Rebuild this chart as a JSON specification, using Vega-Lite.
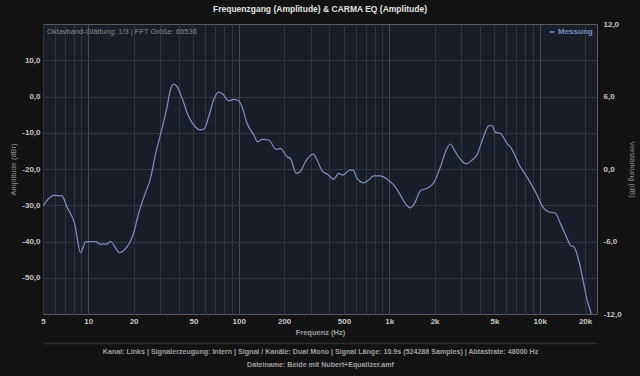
{
  "$schema": "https://vega.github.io/schema/vega-lite/v6.json",
  "width": 554,
  "height": 290,
  "autosize": {"type": "none"},
  "padding": {"left": 43, "top": 24, "right": 43, "bottom": 62},
  "background": "#121212",
  "title": {"text": "Frequenzgang (Amplitude) & CARMA EQ (Amplitude)", "fontSize": 8.5, "fontWeight": "bold", "color": "#e2e2e2", "offset": 7, "anchor": "middle", "frame": "group"},
  "config": {
    "font": "Liberation Sans",
    "view": {"fill": "#181d29", "stroke": "#5a5a5a", "strokeWidth": 1},
    "axis": {"domain": false, "ticks": false, "labelColor": "#c8c8c8", "labelFontSize": 8, "labelFontWeight": "bold", "titleFontSize": 7.5, "titleColor": "#8c8c8c", "titleFontWeight": "normal", "gridColor": "#30343c", "gridWidth": 1, "labelOverlap": false, "labelFlush": false, "labelBound": false}
  },
  "datasets": {
    "messung": [
      {"f": 5.0, "db": -30.2, "serie": "Messung"},
      {"f": 5.9, "db": -27.3, "serie": "Messung"},
      {"f": 6.7, "db": -27.4, "serie": "Messung"},
      {"f": 7.2, "db": -30.4, "serie": "Messung"},
      {"f": 8.1, "db": -35.0, "serie": "Messung"},
      {"f": 8.9, "db": -43.1, "serie": "Messung"},
      {"f": 9.6, "db": -40.1, "serie": "Messung"},
      {"f": 11.2, "db": -40.0, "serie": "Messung"},
      {"f": 11.9, "db": -40.7, "serie": "Messung"},
      {"f": 13.3, "db": -40.7, "serie": "Messung"},
      {"f": 14.0, "db": -40.0, "serie": "Messung"},
      {"f": 16.2, "db": -43.1, "serie": "Messung"},
      {"f": 17.2, "db": -42.5, "serie": "Messung"},
      {"f": 20.0, "db": -37.7, "serie": "Messung"},
      {"f": 21.6, "db": -32.2, "serie": "Messung"},
      {"f": 23.9, "db": -26.7, "serie": "Messung"},
      {"f": 25.9, "db": -22.6, "serie": "Messung"},
      {"f": 27.9, "db": -16.1, "serie": "Messung"},
      {"f": 30.9, "db": -8.8, "serie": "Messung"},
      {"f": 33.4, "db": -2.8, "serie": "Messung"},
      {"f": 35.1, "db": 1.8, "serie": "Messung"},
      {"f": 36.9, "db": 3.4, "serie": "Messung"},
      {"f": 38.9, "db": 2.7, "serie": "Messung"},
      {"f": 42.0, "db": -0.5, "serie": "Messung"},
      {"f": 46.5, "db": -5.6, "serie": "Messung"},
      {"f": 51.5, "db": -8.4, "serie": "Messung"},
      {"f": 55.6, "db": -9.2, "serie": "Messung"},
      {"f": 59.1, "db": -8.8, "serie": "Messung"},
      {"f": 63.1, "db": -5.6, "serie": "Messung"},
      {"f": 68.1, "db": -0.9, "serie": "Messung"},
      {"f": 73.5, "db": 1.2, "serie": "Messung"},
      {"f": 78.6, "db": 0.6, "serie": "Messung"},
      {"f": 85.7, "db": -1.2, "serie": "Messung"},
      {"f": 92.5, "db": -0.8, "serie": "Messung"},
      {"f": 99.8, "db": -1.2, "serie": "Messung"},
      {"f": 105, "db": -2.8, "serie": "Messung"},
      {"f": 113.5, "db": -7.4, "serie": "Messung"},
      {"f": 125.6, "db": -10.6, "serie": "Messung"},
      {"f": 133.6, "db": -12.5, "serie": "Messung"},
      {"f": 142.9, "db": -11.8, "serie": "Messung"},
      {"f": 158, "db": -12.0, "serie": "Messung"},
      {"f": 177.8, "db": -14.6, "serie": "Messung"},
      {"f": 188.9, "db": -14.3, "serie": "Messung"},
      {"f": 209.5, "db": -16.6, "serie": "Messung"},
      {"f": 220.3, "db": -17.1, "serie": "Messung"},
      {"f": 241.5, "db": -21.2, "serie": "Messung"},
      {"f": 256.5, "db": -20.7, "serie": "Messung"},
      {"f": 277, "db": -18.0, "serie": "Messung"},
      {"f": 312, "db": -15.9, "serie": "Messung"},
      {"f": 331, "db": -17.5, "serie": "Messung"},
      {"f": 358, "db": -20.5, "serie": "Messung"},
      {"f": 386, "db": -21.4, "serie": "Messung"},
      {"f": 428, "db": -22.8, "serie": "Messung"},
      {"f": 461, "db": -21.2, "serie": "Messung"},
      {"f": 493, "db": -21.7, "serie": "Messung"},
      {"f": 546, "db": -20.3, "serie": "Messung"},
      {"f": 574, "db": -20.3, "serie": "Messung"},
      {"f": 611, "db": -22.6, "serie": "Messung"},
      {"f": 676, "db": -23.8, "serie": "Messung"},
      {"f": 730, "db": -23.0, "serie": "Messung"},
      {"f": 788, "db": -21.9, "serie": "Messung"},
      {"f": 873, "db": -21.9, "serie": "Messung"},
      {"f": 966, "db": -22.8, "serie": "Messung"},
      {"f": 1069, "db": -24.4, "serie": "Messung"},
      {"f": 1186, "db": -27.2, "serie": "Messung"},
      {"f": 1300, "db": -29.9, "serie": "Messung"},
      {"f": 1381, "db": -30.7, "serie": "Messung"},
      {"f": 1490, "db": -29.0, "serie": "Messung"},
      {"f": 1610, "db": -26.0, "serie": "Messung"},
      {"f": 1782, "db": -25.3, "serie": "Messung"},
      {"f": 1973, "db": -23.8, "serie": "Messung"},
      {"f": 2187, "db": -19.4, "serie": "Messung"},
      {"f": 2385, "db": -14.8, "serie": "Messung"},
      {"f": 2547, "db": -13.1, "serie": "Messung"},
      {"f": 2708, "db": -14.8, "serie": "Messung"},
      {"f": 2968, "db": -17.3, "serie": "Messung"},
      {"f": 3251, "db": -18.6, "serie": "Messung"},
      {"f": 3548, "db": -17.5, "serie": "Messung"},
      {"f": 3829, "db": -16.1, "serie": "Messung"},
      {"f": 4196, "db": -11.5, "serie": "Messung"},
      {"f": 4574, "db": -8.1, "serie": "Messung"},
      {"f": 4818, "db": -8.0, "serie": "Messung"},
      {"f": 5069, "db": -9.9, "serie": "Messung"},
      {"f": 5469, "db": -10.2, "serie": "Messung"},
      {"f": 6063, "db": -12.9, "serie": "Messung"},
      {"f": 6380, "db": -13.9, "serie": "Messung"},
      {"f": 7434, "db": -19.4, "serie": "Messung"},
      {"f": 8440, "db": -23.0, "serie": "Messung"},
      {"f": 9350, "db": -26.3, "serie": "Messung"},
      {"f": 10620, "db": -30.8, "serie": "Messung"},
      {"f": 11460, "db": -31.8, "serie": "Messung"},
      {"f": 12700, "db": -32.2, "serie": "Messung"},
      {"f": 13700, "db": -35.0, "serie": "Messung"},
      {"f": 15170, "db": -39.1, "serie": "Messung"},
      {"f": 16130, "db": -41.2, "serie": "Messung"},
      {"f": 16790, "db": -41.4, "serie": "Messung"},
      {"f": 18120, "db": -45.1, "serie": "Messung"},
      {"f": 19370, "db": -50.6, "serie": "Messung"},
      {"f": 20600, "db": -56.1, "serie": "Messung"},
      {"f": 21900, "db": -59.8, "serie": "Messung"},
      {"f": 22500, "db": -62.0, "serie": "Messung"}
    ],
    "eq": [
      {"f": 5, "gain": -12},
      {"f": 24000, "gain": 12}
    ]
  },
  "layer": [
    {
      "layer": [
        {
          "data": {"name": "messung"},
          "mark": {"type": "line", "strokeWidth": 1.2, "interpolate": "monotone", "clip": true},
          "encoding": {
            "x": {
              "field": "f", "type": "quantitative",
              "scale": {"type": "log", "domain": [5, 24000], "nice": false},
              "axis": {
                "values": [5,6,7,8,9,10,20,30,40,50,60,70,80,90,100,200,300,400,500,600,700,800,900,1000,2000,3000,4000,5000,6000,7000,8000,9000,10000,20000],
                "labelExpr": "indexof([5,10,20,50,100,200,500,1000,2000,5000,10000,20000], datum.value) >= 0 ? (datum.value >= 1000 ? (datum.value/1000) + 'k' : '' + datum.value) : ''",
                "grid": true,
                "gridColor": {"condition": {"test": "indexof([10,100,1000,10000], datum.value) >= 0", "value": "#474a51"}, "value": "#30343c"},
                "labelPadding": 3,
                "title": "Frequenz (Hz)",
                "titleFontWeight": "bold",
                "titleColor": "#a0a0a0",
                "titlePadding": 3
              }
            },
            "y": {
              "field": "db", "type": "quantitative",
              "scale": {"domain": [-60, 20], "nice": false},
              "axis": {
                "values": [-50, -40, -30, -20, -10, 0, 10],
                "labelExpr": "(datum.value < 0 ? '-' : '') + replace(format(abs(datum.value), '.1f'), '.', ',')",
                "grid": true,
                "gridColor": "#33373f",
                "labelPadding": 3,
                "title": "Amplitude (dBr)",
                "titlePadding": 4
              }
            },
            "color": {
              "field": "serie", "type": "nominal",
              "scale": {"range": ["#8191c2"]},
              "legend": {"orient": "top-right", "title": null, "symbolType": "stroke", "symbolSize": 20, "symbolStrokeWidth": 1.5, "labelColor": "#7f8fc4", "labelFontSize": 8, "labelFontWeight": "bold", "offset": 4, "padding": 0, "labelOffset": 2}
            }
          }
        },
        {
          "data": {"values": [{"info": "Oktavband-Glättung: 1/3 | FFT Größe: 65536"}]},
          "mark": {"type": "text", "align": "left", "baseline": "top", "dx": 4, "dy": 4, "fontSize": 7.5, "color": "#8a8a8a"},
          "encoding": {
            "x": {"datum": 5, "type": "quantitative"},
            "y": {"datum": 20, "type": "quantitative"},
            "text": {"field": "info"}
          }
        }
      ]
    },
    {
      "data": {"name": "eq"},
      "mark": {"type": "point", "opacity": 0},
      "encoding": {
        "x": {
          "field": "f", "type": "quantitative",
          "scale": {"type": "log", "domain": [5, 24000], "nice": false},
          "axis": {
            "orient": "bottom", "offset": 29, "domain": true, "domainColor": "#2c2c2c", "domainWidth": 1.5,
            "labels": false, "grid": false, "ticks": false,
            "title": ["Kanal: Links  |  Signalerzeugung: Intern  |  Signal / Kanäle: Dual Mono  |  Signal Länge: 10.9s (524288 Samples)  |  Abtastrate: 48000 Hz", "Dateiname: Beide mit Nubert+Equalizer.amf"],
            "titleLineHeight": 13,
            "titleFontSize": 7.1,
            "titleFontWeight": "bold",
            "titleColor": "#a0a0a0",
            "titlePadding": 4
          }
        },
        "y": {
          "field": "gain", "type": "quantitative",
          "scale": {"domain": [-12, 12], "nice": false},
          "axis": {
            "orient": "right",
            "values": [-12, -6, 0, 6, 12],
            "labelExpr": "(datum.value < 0 ? '-' : '') + replace(format(abs(datum.value), '.1f'), '.', ',')",
            "grid": false,
            "labelPadding": 6,
            "title": "Verstärkung (dB)",
            "titlePadding": 6
          }
        }
      }
    }
  ],
  "resolve": {"scale": {"x": "independent", "y": "independent"}, "axis": {"x": "independent", "y": "independent"}}
}
